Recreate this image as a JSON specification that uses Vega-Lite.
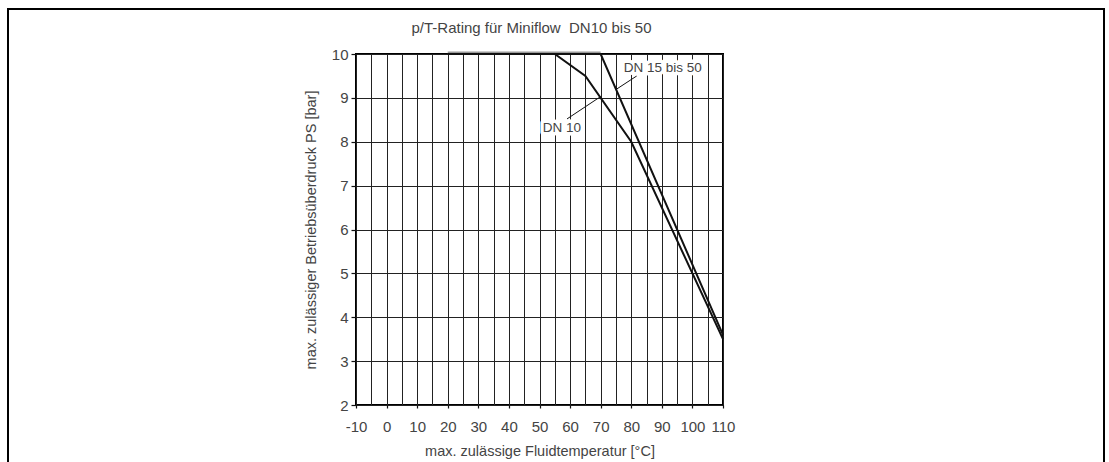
{
  "$schema": "https://vega.github.io/schema/vega-lite/v6.json",
  "width": 367,
  "height": 351,
  "autosize": {"type": "none"},
  "padding": {"left": 356, "top": 54, "right": 386, "bottom": 57},
  "background": "white",
  "title": {
    "text": "p/T-Rating für Miniflow\u00a0 DN10 bis 50",
    "anchor": "middle",
    "dx": -8,
    "offset": -40,
    "baseline": "alphabetic",
    "fontSize": 15,
    "font": "Liberation Sans",
    "fontWeight": "normal",
    "color": "#444"
  },
  "datasets": {
    "curves": [
      {"series": "DN 10", "T": 20, "P": 10},
      {"series": "DN 10", "T": 55, "P": 10},
      {"series": "DN 10", "T": 65, "P": 9.5},
      {"series": "DN 10", "T": 80, "P": 8},
      {"series": "DN 10", "T": 110, "P": 3.5},
      {"series": "DN 15 bis 50", "T": 20, "P": 10},
      {"series": "DN 15 bis 50", "T": 70, "P": 10},
      {"series": "DN 15 bis 50", "T": 110, "P": 3.6}
    ],
    "plateau": [
      {"T": 20, "T2": 70, "P": 10}
    ],
    "leaders": [
      {"series": "DN 10", "T": 59, "P": 8.52, "T2": 70, "P2": 9.03},
      {"series": "DN 15 bis 50", "T": 81.8, "P": 9.5, "T2": 75, "P2": 9.19}
    ],
    "labels": [
      {"label": "DN 10", "T": 57.3, "P": 8.31},
      {"label": "DN 15 bis 50", "T": 90.3, "P": 9.67}
    ]
  },
  "encoding": {
    "x": {
      "field": "T",
      "type": "quantitative",
      "scale": {"domain": [-10, 110], "nice": false, "zero": false},
      "axis": {
        "title": "max. zulässige Fluidtemperatur [°C]",
        "values": [-10, -5, 0, 5, 10, 15, 20, 25, 30, 35, 40, 45, 50, 55, 60, 65, 70, 75, 80, 85, 90, 95, 100, 105, 110],
        "labelExpr": "datum.value % 10 === 0 ? ('' + datum.value) : ''",
        "labelOverlap": false,
        "labelFlush": false,
        "labelBound": false,
        "tickOpacity": {"condition": {"test": "datum.value % 10 === 0", "value": 1}, "value": 0},
        "tickSize": 3,
        "labelPadding": 11,
        "titlePadding": 10
      }
    },
    "y": {
      "field": "P",
      "type": "quantitative",
      "scale": {"domain": [2, 10], "nice": false, "zero": false},
      "axis": {
        "title": "max. zulässiger Betriebsüberdruck PS [bar]",
        "values": [2, 3, 4, 5, 6, 7, 8, 9, 10],
        "labelOverlap": false,
        "labelFlush": false,
        "labelBound": false,
        "tickSize": 5,
        "labelPadding": 3,
        "titlePadding": 13
      }
    }
  },
  "layer": [
    {
      "data": {"name": "plateau"},
      "mark": {"type": "rule", "color": "#999999", "strokeWidth": 2, "yOffset": -1.5},
      "encoding": {
        "x2": {"field": "T2"}
      }
    },
    {
      "data": {"name": "curves"},
      "mark": {"type": "line", "strokeWidth": 2, "strokeJoin": "miter"},
      "encoding": {
        "color": {
          "field": "series",
          "type": "nominal",
          "scale": {"range": ["#111111", "#111111"]},
          "legend": {
            "orient": "none",
            "legendX": -348,
            "legendY": -45,
            "title": null,
            "values": ["DN 10"],
            "labelExpr": "''",
            "symbolOpacity": 0,
            "padding": 540,
            "strokeColor": "black"
          }
        }
      }
    },
    {
      "data": {"name": "leaders"},
      "mark": {"type": "rule", "color": "#111111", "strokeWidth": 1},
      "encoding": {
        "x2": {"field": "T2"},
        "y2": {"field": "P2"}
      }
    },
    {
      "data": {"name": "labels"},
      "mark": {
        "type": "text",
        "font": "Liberation Sans",
        "fontSize": 13.5,
        "fill": "white",
        "stroke": "white",
        "strokeWidth": 7,
        "strokeJoin": "round",
        "align": "center",
        "baseline": "middle"
      },
      "encoding": {"text": {"field": "label"}}
    },
    {
      "data": {"name": "labels"},
      "mark": {
        "type": "text",
        "font": "Liberation Sans",
        "fontSize": 13.5,
        "fill": "#444",
        "align": "center",
        "baseline": "middle"
      },
      "encoding": {"text": {"field": "label"}}
    }
  ],
  "config": {
    "font": "Liberation Sans",
    "view": {"stroke": "black", "strokeWidth": 2},
    "legend": {"strokeWidth": 2},
    "axis": {
      "domain": false,
      "grid": true,
      "gridColor": "#222",
      "gridWidth": 1,
      "gridOpacity": 1,
      "tickColor": "#111",
      "tickWidth": 1.2,
      "labelFont": "Liberation Sans",
      "labelFontSize": 15,
      "labelColor": "#444",
      "titleFont": "Liberation Sans",
      "titleFontSize": 14.5,
      "titleFontWeight": "normal",
      "titleColor": "#444"
    }
  }
}
